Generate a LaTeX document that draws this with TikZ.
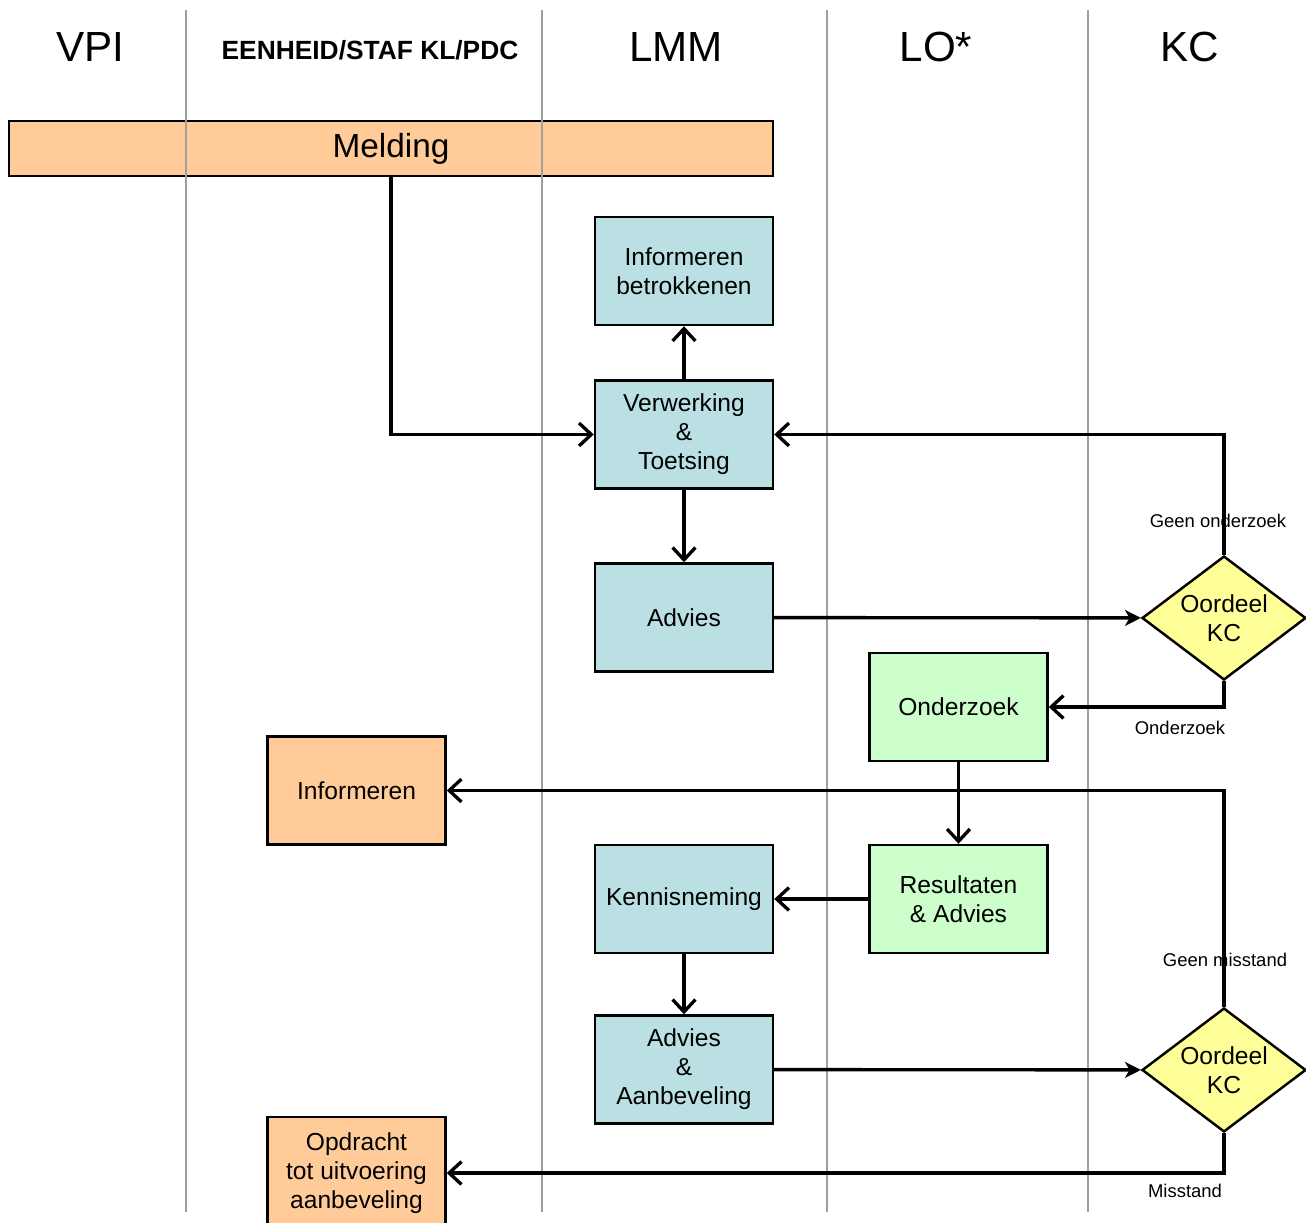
\documentclass[tikz,border=0pt]{standalone}
\usepackage{fontspec}
\setmainfont{Liberation Sans}
\usepackage{xcolor}
\usepackage{tikz}
\usetikzlibrary{arrows.meta,positioning,shapes.geometric}

\definecolor{meldorange}{HTML}{FFCC99}
\definecolor{lmmblue}{HTML}{BBE0E3}
\definecolor{logreen}{HTML}{CCFFCC}
\definecolor{kcyellow}{HTML}{FFFF99}

\begin{document}
\begin{tikzpicture}[x=0.02cm,y=-0.02cm,
    lane/.style={draw=gray!75, line width=1.2pt},
    lanehead/.style={font=\fontsize{24}{28}\selectfont},
    box/.style={draw, line width=1.4pt, minimum width=3.56cm, minimum height=2.16cm,
        align=center, inner sep=2pt, font=\fontsize{14}{16.5}\selectfont},
    lmm/.style={box, fill=lmmblue},
    vpi/.style={box, fill=meldorange},
    lo/.style={box, fill=logreen},
    oordeel/.style={diamond, draw, line width=1.4pt, fill=kcyellow, aspect=1.32,
        minimum width=3.28cm, minimum height=2.48cm, inner sep=0pt, align=center,
        font=\fontsize{14}{16.5}\selectfont},
    flow/.style={line width=1.9pt, -{Straight Barb[length=7pt,width=13pt]}},
    tokc/.style={line width=1.9pt, -{Stealth[length=9pt,width=9pt,inset=2.5pt]}},
    keuze/.style={font=\fontsize{10.5}{12}\selectfont}]
    \useasboundingbox (0,0) rectangle (1306,1223);

    % Swimlane headers
    \node[lanehead] (hvpi) at (90,47) {VPI};
    \node[font=\fontsize{15}{18}\selectfont\bfseries] (heenheid) at (370,50) {EENHEID/STAF KL/PDC};
    \node[lanehead] (hlmm) at (676,47) {LMM};
    \node[lanehead] (hlo) at (936,47) {LO*};
    \node[lanehead] (hkc) at (1190,47) {KC};

    % Steps
    \node[vpi, minimum width=15.28cm, minimum height=1.1cm, font=\fontsize{19}{22}\selectfont] (melding) at (391,148.5) {Melding};
    \node[lmm] (infobetr) at (684,271) {Informeren\\betrokkenen};
    \node[lmm] (verwerking) at (684,434.5) {Verwerking\\\&\\Toetsing};
    \node[lmm] (advies) at (684,617.5) {Advies};
    \node[oordeel] (kcA) at (1224,618) {Oordeel\\KC};
    \node[lo] (onderzoek) at (958.5,707) {Onderzoek};
    \node[vpi] (informeren) at (356.5,790.5) {Informeren};
    \node[lo] (resultaten) at (958.5,899) {Resultaten\\\& Advies};
    \node[lmm] (kennis) at (684,899) {Kennisneming};
    \node[lmm] (aanbeveling) at (684,1069.5) {Advies\\\&\\Aanbeveling};
    \node[oordeel] (kcB) at (1224,1070) {Oordeel\\KC};
    \node[vpi, minimum height=2.24cm] (opdracht) at (356.5,1173) {Opdracht\\tot uitvoering\\aanbeveling};

    % Lane separators
    \foreach \xl in {186,542,827,1088}
        \draw[lane] (\xl,10) -- (\xl,1212);

    % Flow
    \draw[flow] (melding.south) |- (verwerking.west);
    \draw[flow] (verwerking) -- (infobetr);
    \draw[flow] (verwerking) -- (advies);
    \draw[tokc] (advies) -- (kcA);
    \draw[flow] (kcA.north) |- (verwerking.east);
    \draw[flow] (kcA.south) |- (onderzoek.east);
    \draw[flow] (onderzoek) -- (resultaten);
    \draw[flow] (resultaten) -- (kennis);
    \draw[flow] (kennis) -- (aanbeveling);
    \draw[tokc] (aanbeveling) -- (kcB);
    \draw[flow] (kcB.north) |- (informeren.east);
    \draw[flow] (kcB.south) |- (opdracht.east);

    % Decision labels
    \node[keuze] (lgeenond) at (1218,521) {Geen onderzoek};
    \node[keuze] (lond) at (1180,728) {Onderzoek};
    \node[keuze] (lgeenmis) at (1225,960) {Geen misstand};
    \node[keuze] (lmis) at (1185,1191) {Misstand};
\end{tikzpicture}
\end{document}
